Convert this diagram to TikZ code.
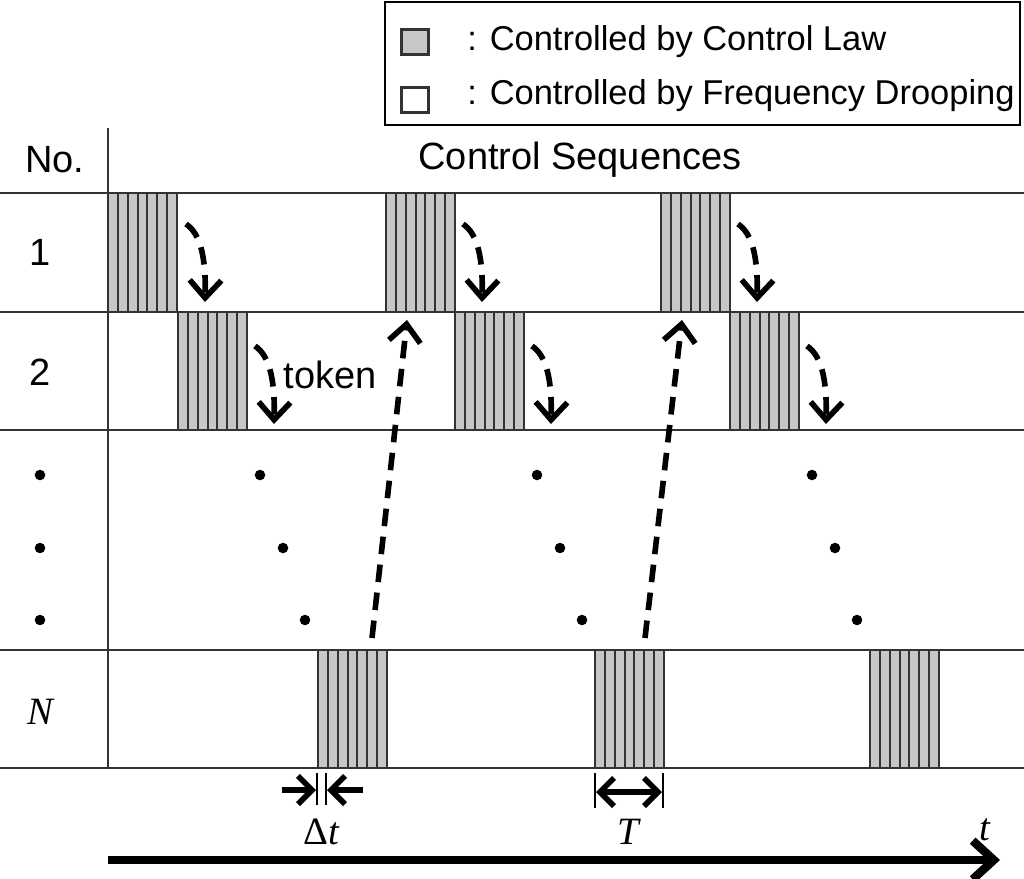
\documentclass[tikz,border=0pt]{standalone}
\usepackage{fontspec}
\setmainfont{Liberation Sans}
\newfontfamily\tmsfont{Liberation Serif}
\usetikzlibrary{arrows.meta}
\tikzset{
  blk/.style={fill=black!22,draw=black!80,line width=.6pt},
  tok/.style={line width=1.6pt,dash pattern=on 5pt off 3pt,-{Straight Barb[length=5pt,width=9pt]}},
  dim/.style={line width=1.6pt,-{Straight Barb[length=4pt,width=8pt]}},
  txt/.style={font=\fontsize{10.8}{12}\selectfont},
  lgd/.style={font=\fontsize{9.8}{12}\selectfont},
  var/.style={font=\fontsize{11}{12}\selectfont\tmsfont\itshape}
}
\begin{document}
\begin{tikzpicture}[x=0.01cm,y=-0.01cm]
  \useasboundingbox (0,0) rectangle (1024,878);
  % legend
  \draw[line width=.6pt] (385,2) rectangle (1020,125);
  \node[blk,minimum width=0.27cm,minimum height=0.25cm,inner sep=0pt] (lgA) at (415,42) {};
  \node[draw=black!80,line width=.6pt,minimum width=0.27cm,minimum height=0.25cm,inner sep=0pt] (lgB) at (415,100) {};
  \node[lgd,anchor=west] (lgAt) at (455,42) {: Controlled by Control Law};
  \node[lgd,anchor=west] (lgBt) at (455,96) {: Controlled by Frequency Drooping};
  % table lines
  \foreach \y in {193,312,430,650,768}
    \draw[line width=.6pt,black!80] (0,\y) -- (1024,\y);
  \draw[line width=.6pt,black!80] (108,128) -- (108,768);
  \node[txt] (hNo) at (55,160) {No.};
  \node[txt] (hCS) at (580,160) {Control Sequences};
  \node[txt] (r1) at (40,252) {1};
  \node[txt] (r2) at (40,372) {2};
  \node[var] (rN) at (40,712) {N};
  % blocks
  \foreach \x/\ya/\yb in {108/193/312,386/193/312,661/193/312,
                          178/312/430,455/312/430,730/312/430,
                          318/650/768,595/650/768,870/650/768}{
    \draw[blk] (\x,\ya) rectangle ++(69,\yb-\ya);
    \foreach \k in {1,...,6}
      \draw[black!80,line width=.6pt] (\x+\k*9.857,\ya) -- (\x+\k*9.857,\yb);
  }
  % dots
  \foreach \y in {475,548,620}
    \fill (40,\y) circle (1.5pt);
  \foreach \x in {260,537,812}{
    \fill (\x,475) circle (1.5pt);
    \fill (\x+23,548) circle (1.5pt);
    \fill (\x+45,620) circle (1.5pt);
  }
  % token arrows
  \foreach \x/\y in {186/224,463/224,738/224,255/346,532/346,807/346}
    \draw[tok] (\x,\y) .. controls (\x+15,\y+10) and (\x+20,\y+35) .. (\x+19,\y+78);
  \node[txt] (tk) at (330,375) {token};
  \draw[tok] (372,638) -- (407,320);
  \draw[tok] (645,638) -- (682,320);
  % delta t and T
  \draw[line width=.6pt] (317,773) -- (317,805) (326,773) -- (326,805);
  \draw[dim] (282,790) -- (316,790);
  \draw[dim] (363,790) -- (327,790);
  \node[var] (dt) at (321,832) {\textup{Δ}t};
  \draw[line width=.6pt] (595,773) -- (595,808) (663,773) -- (663,808);
  \draw[dim,{Straight Barb[length=4pt,width=8pt]}-{Straight Barb[length=4pt,width=8pt]}] (596,792) -- (662,792);
  \node[var] (lT) at (628,832) {T};
  % time axis
  \draw[line width=2.4pt,-{Straight Barb[length=6pt,width=11pt]}] (108,860) -- (1000,860);
  \node[var] (lt) at (985,830) {t};
\end{tikzpicture}
\end{document}
